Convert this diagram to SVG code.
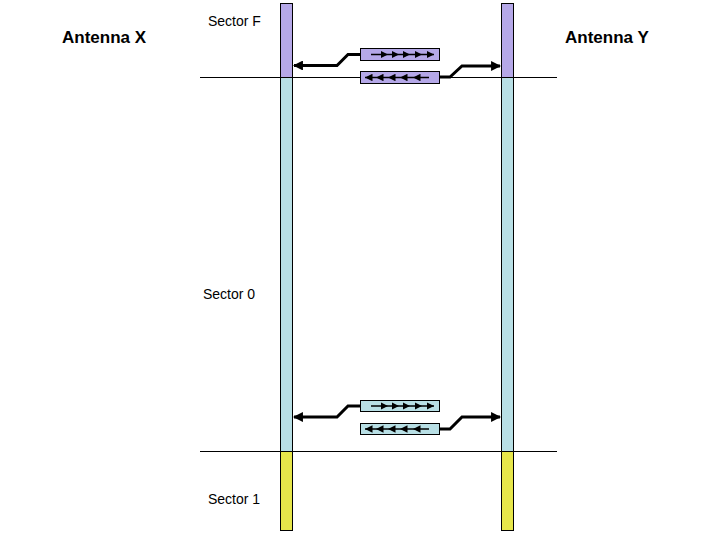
<svg xmlns="http://www.w3.org/2000/svg" width="720" height="540" viewBox="0 0 720 540">
<defs>
<style>
.lbl{font-family:"Liberation Sans",Arial,sans-serif;fill:#000}
.ant{font-size:17px;font-weight:bold}
.sec{font-size:14px}
.purple{fill:#B5A8E8}
.teal{fill:#B8DFE5}
.yellow{fill:#E6E64A}
.bar{stroke:#000;stroke-width:1}
.box{stroke:#000;stroke-width:1}
.conn{fill:none;stroke:#000;stroke-width:3;stroke-linejoin:miter}
.inner{fill:none;stroke:#000;stroke-width:1.5}
.sep{stroke:#000;stroke-width:1}
</style>
<marker id="big" viewBox="0 0 10 10" refX="9" refY="5" markerWidth="3.3" markerHeight="3.3" orient="auto" markerUnits="strokeWidth"><path d="M0,0 L10,5 L0,10 z" fill="#000"/></marker>
<marker id="small" viewBox="0 0 10 10" refX="10" refY="5" markerWidth="5" markerHeight="5" orient="auto" markerUnits="strokeWidth"><path d="M0,0 L10,5 L0,10 z" fill="#000"/></marker>
</defs>
<g id="antenna-x-label"><text class="lbl ant" x="62" y="43">Antenna X</text></g>
<g id="antenna-y-label"><text class="lbl ant" x="565" y="43">Antenna Y</text></g>
<g id="sector-labels">
<text class="lbl sec" x="208" y="26">Sector F</text>
<text class="lbl sec" x="203" y="299">Sector 0</text>
<text class="lbl sec" x="208" y="504">Sector 1</text>
</g>
<g id="antenna-x">
<rect class="bar purple" x="280.5" y="3.5" width="12" height="74"/>
<rect class="bar teal" x="280.5" y="77.5" width="12" height="374"/>
<rect class="bar yellow" x="280.5" y="451.5" width="12" height="79"/>
</g>
<g id="antenna-y">
<rect class="bar purple" x="501.5" y="3.5" width="12" height="74"/>
<rect class="bar teal" x="501.5" y="77.5" width="12" height="374"/>
<rect class="bar yellow" x="501.5" y="451.5" width="12" height="79"/>
</g>
<g id="separators">
<line class="sep" x1="200" y1="77.5" x2="557" y2="77.5"/>
<line class="sep" x1="200" y1="451.5" x2="557" y2="451.5"/>
</g>
<g id="frame-f-fwd">
<rect class="box purple" x="360.5" y="48.5" width="79" height="12"/>
<polyline class="inner" points="371,54.5 388,54.5 399,54.5 410,54.5 422,54.5 434,54.5" marker-mid="url(#small)" marker-end="url(#small)"/>
</g>
<g id="frame-f-rev">
<rect class="box purple" x="360.5" y="71.5" width="79" height="12"/>
<polyline class="inner" points="429,77.5 413,77.5 400,77.5 388,77.5 376,77.5 365,77.5" marker-mid="url(#small)" marker-end="url(#small)"/>
</g>
<g id="frame-0-fwd">
<rect class="box teal" x="360.5" y="400.5" width="79" height="11"/>
<polyline class="inner" points="371,406 388,406 399,406 410,406 422,406 434,406" marker-mid="url(#small)" marker-end="url(#small)"/>
</g>
<g id="frame-0-rev">
<rect class="box teal" x="360.5" y="423.5" width="79" height="11"/>
<polyline class="inner" points="429,429 413,429 400,429 388,429 376,429 365,429" marker-mid="url(#small)" marker-end="url(#small)"/>
</g>
<g id="connectors">
<path class="conn" d="M360,54.5 L348,54.5 L337,65.5 L294,65.5" marker-end="url(#big)"/>
<path class="conn" d="M440,77 L450,77 L462,66 L500,66" marker-end="url(#big)"/>
<path class="conn" d="M360,406 L348,406 L337,417 L294,417" marker-end="url(#big)"/>
<path class="conn" d="M440,429 L450,429 L462,417 L500,417" marker-end="url(#big)"/>
</g>
</svg>
